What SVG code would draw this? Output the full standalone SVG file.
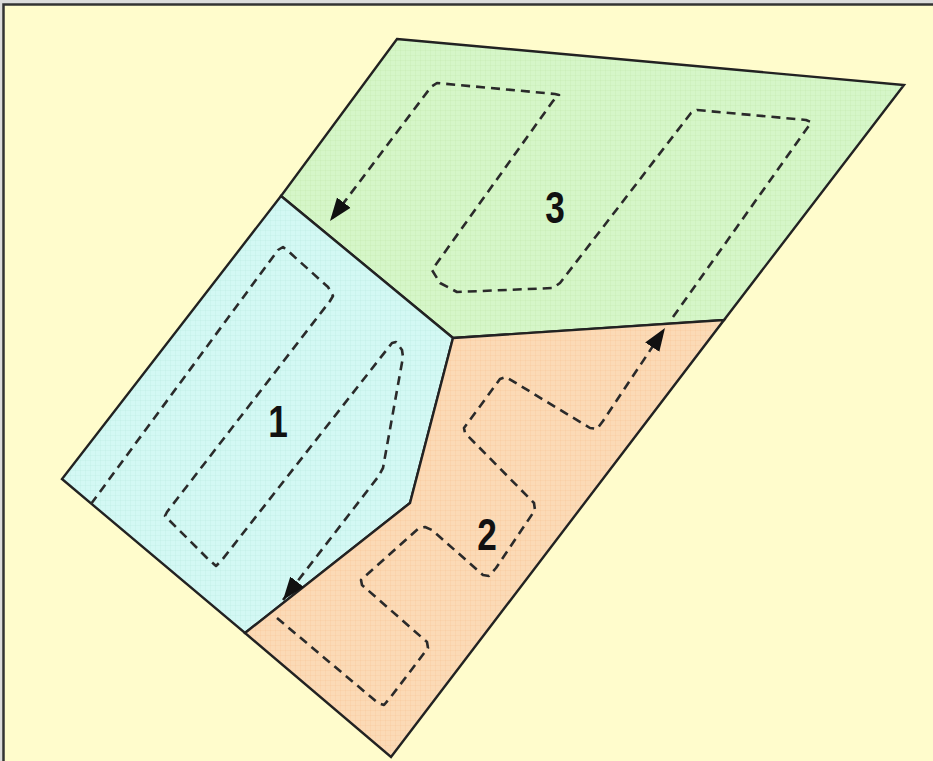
<svg xmlns="http://www.w3.org/2000/svg" width="933" height="761" viewBox="0 0 933 761">
  <defs>
    <style>
      .zone { stroke: #222; stroke-width: 2.4; stroke-linejoin: miter; }
      .grid { stroke: none; }
      .route { fill: none; stroke: #2a2a2a; stroke-width: 2.6; stroke-dasharray: 9 6; stroke-linejoin: round; }
      .label { font-family: "Liberation Sans", Arial, sans-serif; font-size: 44px; font-weight: bold; fill: #111; text-anchor: middle; }
    </style>
    <pattern id="gridG" width="5" height="5" patternUnits="userSpaceOnUse">
      <path d="M0,0 H5 M0,0 V5" stroke="#a8d890" stroke-width="0.6" stroke-opacity="0.45" fill="none"/>
    </pattern>
    <pattern id="gridC" width="5" height="5" patternUnits="userSpaceOnUse">
      <path d="M0,0 H5 M0,0 V5" stroke="#9ad8cc" stroke-width="0.6" stroke-opacity="0.45" fill="none"/>
    </pattern>
    <pattern id="gridO" width="5" height="5" patternUnits="userSpaceOnUse">
      <path d="M0,0 H5 M0,0 V5" stroke="#f0a870" stroke-width="0.6" stroke-opacity="0.45" fill="none"/>
    </pattern>
    <marker id="arr" markerWidth="26" markerHeight="20" refX="23" refY="10" orient="auto" markerUnits="userSpaceOnUse">
      <path d="M0,1.5 L23,10 L0,18.5 z" fill="#111"/>
    </marker>
  </defs>

  <rect x="0" y="0" width="933" height="761" fill="#dcdcdc"/>
  <rect id="frame" x="3.5" y="4.5" width="980" height="800" fill="#fffccc" stroke="#333" stroke-width="2.5"/>

  <g id="zone3">
    <polygon points="397,39 904,85 724,320 453,338 281,196" fill="#d5f6c8"/>
    <polygon class="grid" points="397,39 904,85 724,320 453,338 281,196" fill="url(#gridG)"/>
    <polygon class="zone" points="397,39 904,85 724,320 453,338 281,196" fill="none"/>
    <text class="label" x="555" y="223" transform="translate(555 0) scale(0.8 1) translate(-555 0)">3</text>
  </g>

  <g id="zone1">
    <polygon points="281,196 453,338 410,503 245,633 62,479" fill="#d3f8f4"/>
    <polygon class="grid" points="281,196 453,338 410,503 245,633 62,479" fill="url(#gridC)"/>
    <polygon class="zone" points="281,196 453,338 410,503 245,633 62,479" fill="none"/>
    <text class="label" x="278" y="437" transform="translate(278 0) scale(0.8 1) translate(-278 0)">1</text>
  </g>

  <g id="zone2">
    <polygon points="453,338 724,320 391,757 245,633 410,503" fill="#fbdab6"/>
    <polygon class="grid" points="453,338 724,320 391,757 245,633 410,503" fill="url(#gridO)"/>
    <polygon class="zone" points="453,338 724,320 391,757 245,633 410,503" fill="none"/>
    <text class="label" x="487" y="550" transform="translate(487 0) scale(0.8 1) translate(-487 0)">2</text>
  </g>

  <g id="connectors">
    <path id="route1" class="route" marker-end="url(#arr)" d="M91,504 L278,250 L283,247 L288,251 L328,287 L333,296 L330,301 L167,512 L165,516 L169,520 L207,558 L216,566 L222,560 L392,343 L396,342 L402,350 L403,357 L383,468 L378,477 L283,600"/>
    <path id="route2" class="route" marker-end="url(#arr)" d="M277,618 L378,703 L384,705 L390,698 L428,648 L427,642 L362,585 L361,580 L418,529 L425,527 L432,530 L483,575 L489,576 L496,568 L535,510 L534,503 L465,433 L464,428 L500,379 L506,377 L590,428 L597,429 L603,421 L665,328"/>
    <path id="route3" class="route" marker-end="url(#arr)" d="M673,317 L808,127 L811,122 L806,120 L697,110 L691,113 L560,283 L553,288 L457,292 L440,283 L432,270 L553,101 L559,95 L555,94 L437,83 L431,87 L330,221"/>
  </g>
</svg>
